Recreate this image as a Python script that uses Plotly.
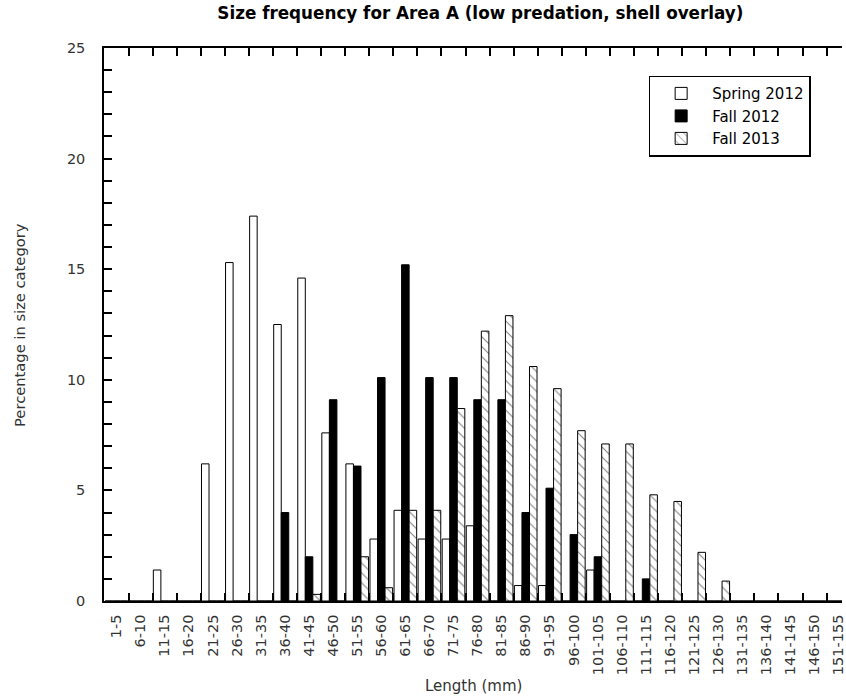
import plotly.graph_objects as go

categories = ["1-5", "6-10", "11-15", "16-20", "21-25", "26-30", "31-35", "36-40",
              "41-45", "46-50", "51-55", "56-60", "61-65", "66-70", "71-75", "76-80",
              "81-85", "86-90", "91-95", "96-100", "101-105", "106-110", "111-115",
              "116-120", "121-125", "126-130", "131-135", "136-140", "141-145",
              "146-150", "151-155"]

spring_2012 = [0, 0, 1.4, 0, 6.2, 15.3, 17.4, 12.5, 14.6, 7.6, 6.2, 2.8, 4.1, 2.8, 2.8, 3.4,
               0, 0.7, 0.7, 0, 1.4, 0, 0, 0, 0, 0, 0, 0, 0, 0, 0]
fall_2012 = [0, 0, 0, 0, 0, 0, 0, 4.0, 2.0, 9.1, 6.1, 10.1, 15.2, 10.1, 10.1, 9.1,
             9.1, 4.0, 5.1, 3.0, 2.0, 0, 1.0, 0, 0, 0, 0, 0, 0, 0, 0]
fall_2013 = [0, 0, 0, 0, 0, 0, 0, 0, 0.3, 0, 2.0, 0.6, 4.1, 4.1, 8.7, 12.2,
             12.9, 10.6, 9.6, 7.7, 7.1, 7.1, 4.8, 4.5, 2.2, 0.9, 0, 0, 0, 0, 0]

FONT = "DejaVu Sans"

fig = go.Figure()
fig.add_trace(go.Bar(x=categories, y=spring_2012, name="Spring 2012",
                     marker=dict(color="white", line=dict(color="black", width=1))))
fig.add_trace(go.Bar(x=categories, y=fall_2012, name="Fall 2012",
                     marker=dict(color="black", line=dict(color="black", width=1))))
fig.add_trace(go.Bar(x=categories, y=fall_2013, name="Fall 2013",
                     marker=dict(color="white", line=dict(color="black", width=1),
                                 pattern=dict(shape="\\", fgcolor="black", bgcolor="white",
                                              size=7, solidity=0.15))))

fig.update_layout(
    width=846, height=698,
    margin=dict(l=104, r=0, t=48, b=97),
    paper_bgcolor="white", plot_bgcolor="white",
    barmode="group", bargap=0.06, bargroupgap=0,
    font=dict(family=FONT, size=14.5, color="#333"),
    title=dict(text="Size frequency for Area A (low predation, shell overlay)",
               font=dict(family=FONT, size=16.8, color="black", weight=700),
               x=0.51, xref="paper", xanchor="center",
               y=1 - 13 / 698, yref="container", yanchor="middle"),
    showlegend=True,
    legend=dict(x=0.738, y=0.95, xanchor="left", yanchor="top",
                bgcolor="white", bordercolor="black", borderwidth=1.5,
                font=dict(family=FONT, size=15, color="black"),
                itemwidth=52, traceorder="normal", tracegroupgap=0),
    annotations=[
        dict(text="Percentage in size category", xref="paper", yref="paper",
             x=-(104 - 19) / 742, y=0.5, textangle=-90, showarrow=False,
             xanchor="center", yanchor="middle",
             font=dict(family=FONT, size=14.7, color="#333")),
        dict(text="Length (mm)", xref="paper", yref="paper",
             x=0.5, y=-(686 - 601) / 553, showarrow=False,
             xanchor="center", yanchor="middle",
             font=dict(family=FONT, size=15, color="#333")),
    ],
)

fig.update_xaxes(
    type="category", range=[-0.52, 30.14],
    showline=True, linecolor="black", linewidth=1.5, mirror="ticks",
    ticks="inside", ticklen=8, tickcolor="black", tickwidth=1.5,
    tickson="boundaries", tickangle=-90, ticklabelstandoff=6,
    tickfont=dict(family=FONT, size=14.5, color="#333"),
    showgrid=False, zeroline=False,
)
fig.update_yaxes(
    range=[0, 25], dtick=5, tick0=0,
    showline=True, linecolor="black", linewidth=1.5, mirror=False,
    ticks="inside", ticklen=8, tickcolor="black", tickwidth=1.5,
    minor=dict(dtick=1, ticks="inside", ticklen=8, tickcolor="black", tickwidth=1.5),
    ticklabelstandoff=14,
    tickfont=dict(family=FONT, size=14.5, color="#333"),
    showgrid=False, zeroline=False,
)

fig.write_html("out.html")
